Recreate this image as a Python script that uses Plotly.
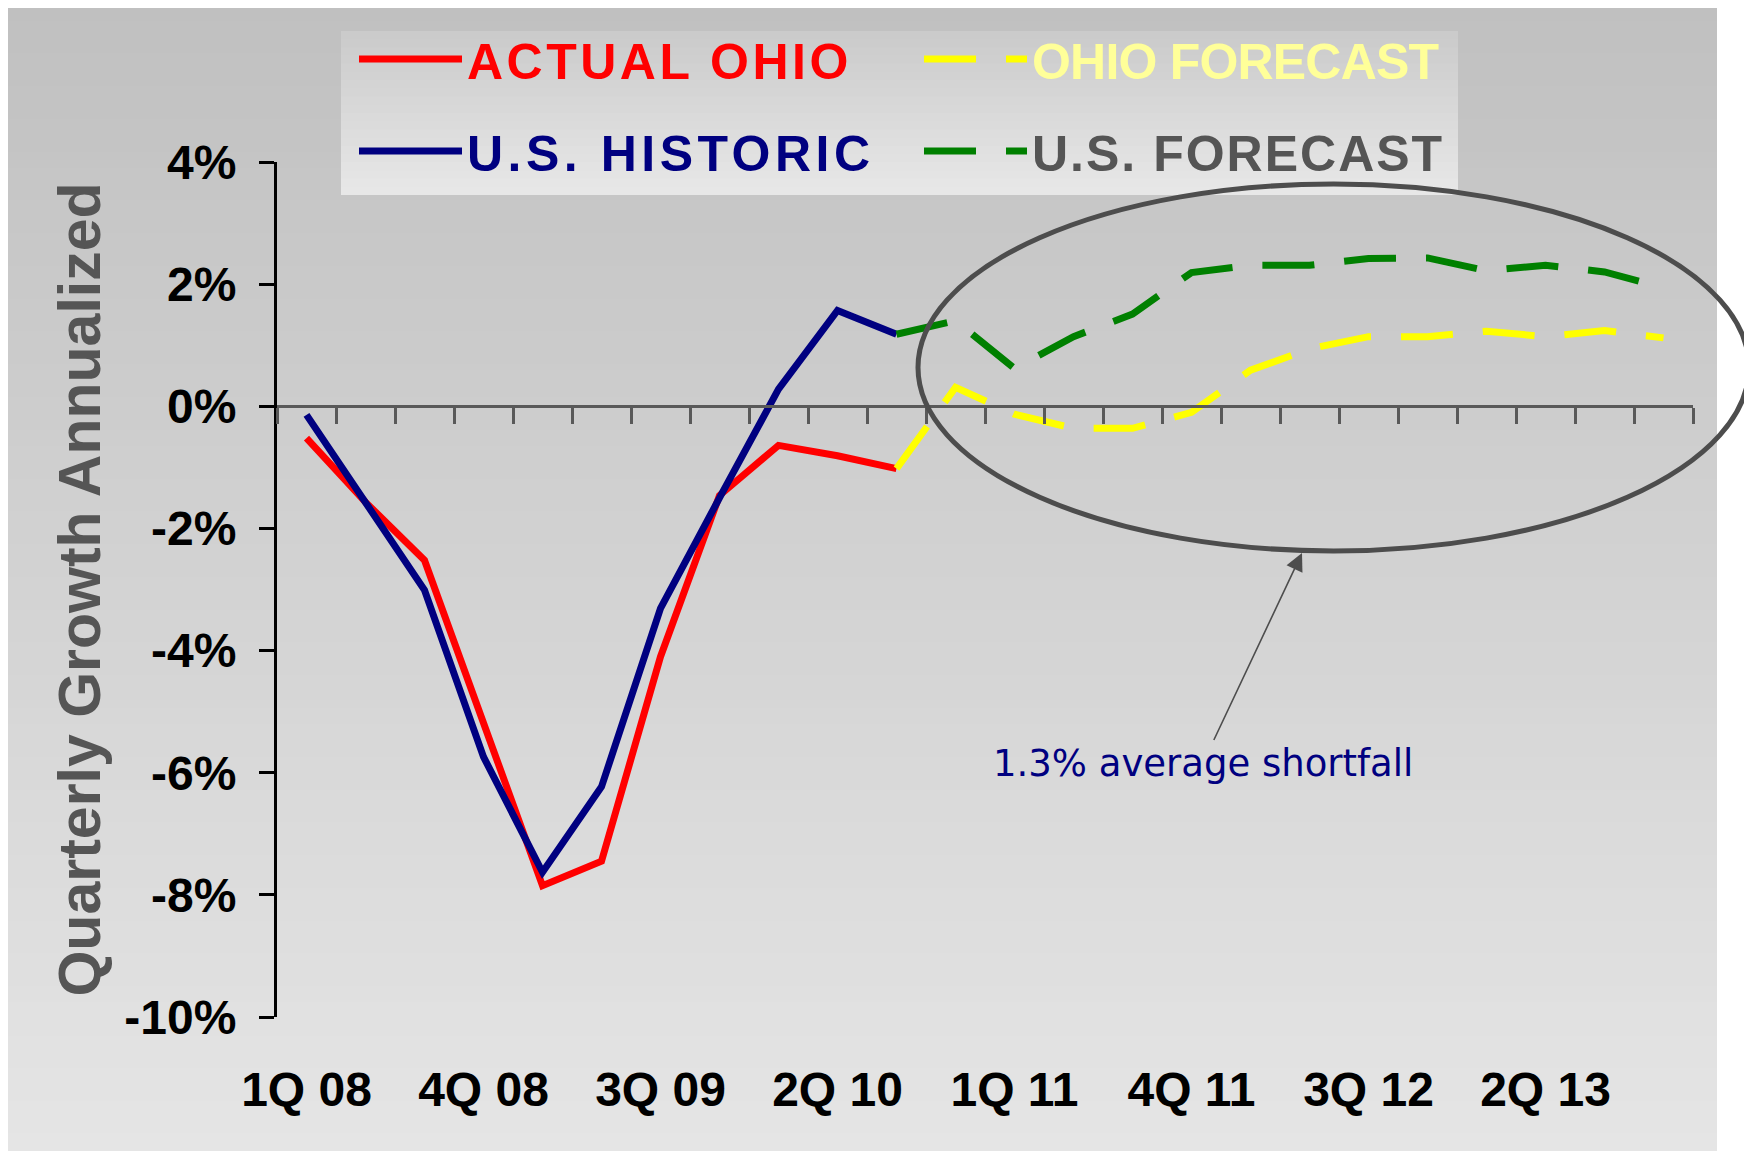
import plotly.graph_objects as go

# ---------------- data ----------------
quarters = ["1Q 08", "2Q 08", "3Q 08", "4Q 08", "1Q 09", "2Q 09", "3Q 09", "4Q 09",
            "1Q 10", "2Q 10", "3Q 10", "4Q 10", "1Q 11", "2Q 11", "3Q 11", "4Q 11",
            "1Q 12", "2Q 12", "3Q 12", "4Q 12", "1Q 13", "2Q 13", "3Q 13", "4Q 13"]
shown_labels = ["1Q 08", "4Q 08", "3Q 09", "2Q 10", "1Q 11", "4Q 11", "3Q 12", "2Q 13"]

ohio_actual = [-0.52, -1.57, -2.52, -5.20, -7.85, -7.45, -4.10, -1.46, -0.64, -0.81, -1.02] + [None] * 13
us_historic = [-0.14, -1.60, -3.01, -5.74, -7.63, -6.23, -3.31, -1.50, 0.28, 1.57, 1.18] + [None] * 13
ohio_forecast = [None] * 10 + [-1.02, 0.31, -0.13, -0.36, -0.36, -0.10, 0.59, 0.94,
                                1.14, 1.14, 1.23, 1.14, 1.24, 1.12]
us_forecast = [None] * 10 + [1.18, 1.40, 0.62, 1.14, 1.51, 2.19, 2.31, 2.31,
                              2.42, 2.43, 2.22, 2.31, 2.20, 1.94]

y_tickvals = [4, 2, 0, -2, -4, -6, -8, -10]
y_ticktext = ["4%", "2%", "0%", "-2%", "-4%", "-6%", "-8%", "-10%"]

# ---------------- geometry (page pixels; the page body adds an 8px offset) ----------------
OFF = 8
W, H = 1752 - OFF, 1152 - OFF
L, T = 277 - OFF, 162 - OFF
R = W - (1693 - OFF)
B = H - (1017 - OFF)
PW, PH = W - L - R, H - T - B


def px2paper_x(px):
    return (px - OFF - L) / PW


def px2paper_y(py):
    return (H - B - (py - OFF)) / PH


FONT = "Liberation Sans, Arial, sans-serif"

fig = go.Figure()

fig.add_trace(go.Scatter(
    x=quarters, y=ohio_actual, mode="lines",
    name="<span style='color:#ff0000;letter-spacing:3.5px'>ACTUAL OHIO</span>",
    line=dict(color="#ff0000", width=7), legend="legend"))
fig.add_trace(go.Scatter(
    x=quarters, y=us_historic, mode="lines",
    name="<span style='color:#000080;letter-spacing:4.5px'>U.S. HISTORIC</span>",
    line=dict(color="#000080", width=7), legend="legend2"))
fig.add_trace(go.Scatter(
    x=quarters, y=ohio_forecast, mode="lines",
    name="<span style='color:#ffff99;letter-spacing:-0.8px'>OHIO FORECAST</span>",
    line=dict(color="#ffff00", width=7, dash="52px,30px"), legend="legend"))
fig.add_trace(go.Scatter(
    x=quarters, y=us_forecast, mode="lines",
    name="<span style='color:#555555;letter-spacing:2px'>U.S. FORECAST</span>",
    line=dict(color="#008000", width=7, dash="52px,30px"), legend="legend2"))
# invisible helper so the bottom label axis renders
fig.add_trace(go.Scatter(x=quarters, y=[None] * len(quarters), xaxis="x2",
                         showlegend=False, hoverinfo="skip", mode="lines"))

# ---------------- background gradient (stripes) ----------------
shapes = []
n = 70
top_px, bot_px = 4, 1150
for i in range(n):
    y0 = top_px + (bot_px - top_px) * i / n
    y1 = top_px + (bot_px - top_px) * (i + 1) / n + 1
    c = int(round(192 + (229 - 192) * (i + 0.5) / n))
    shapes.append(dict(type="rect", xref="paper", yref="paper", layer="below",
                       x0=px2paper_x(4), x1=px2paper_x(1717),
                       y0=px2paper_y(y1), y1=px2paper_y(y0),
                       fillcolor=f"rgb({c},{c},{c})", line=dict(width=0)))
# legend box gradient
nb = 20
lb_t, lb_b = 31, 195
for i in range(nb):
    y0 = lb_t + (lb_b - lb_t) * i / nb
    y1 = lb_t + (lb_b - lb_t) * (i + 1) / nb + 1
    c = int(round(202 + (232 - 202) * (i + 0.5) / nb))
    shapes.append(dict(type="rect", xref="paper", yref="paper", layer="below",
                       x0=px2paper_x(341), x1=px2paper_x(1458),
                       y0=px2paper_y(min(y1, lb_b)), y1=px2paper_y(y0),
                       fillcolor=f"rgb({c},{c},{c})", line=dict(width=0)))
# highlight ellipse
shapes.append(dict(type="circle", xref="paper", yref="paper", layer="above",
                   x0=px2paper_x(918), x1=px2paper_x(1749),
                   y0=px2paper_y(551), y1=px2paper_y(184),
                   line=dict(color="#4d4d4d", width=5)))

legend_common = dict(orientation="h", xanchor="left", yanchor="middle",
                     bgcolor="rgba(0,0,0,0)", borderwidth=0,
                     font=dict(family=FONT, size=50, weight="bold"),
                     itemwidth=103, entrywidth=447, entrywidthmode="pixels",
                     traceorder="normal")

fig.update_layout(
    width=W, height=H, autosize=False,
    margin=dict(l=L, r=R, t=T, b=B, pad=0),
    paper_bgcolor="white", plot_bgcolor="rgba(0,0,0,0)",
    shapes=shapes,
    showlegend=True,
    legend=dict(x=px2paper_x(354), y=px2paper_y(59), **legend_common),
    legend2=dict(x=px2paper_x(354), y=px2paper_y(151), **legend_common),
    xaxis=dict(type="category", categoryorder="array", categoryarray=quarters,
               range=[-0.5, len(quarters) - 0.5], anchor="free", position=10 / 14,
               showline=True, linecolor="#595959", linewidth=3,
               ticks="outside", tickson="boundaries", ticklen=16, tickwidth=2.5,
               tickcolor="#595959", tickmode="array", tickvals=quarters,
               showticklabels=False, showgrid=False, zeroline=False),
    xaxis2=dict(type="category", categoryorder="array", categoryarray=quarters,
                range=[-0.5, len(quarters) - 0.5], overlaying="x", anchor="y", side="bottom",
                showline=False, ticks="", tickmode="array", tickvals=shown_labels,
                ticktext=shown_labels, showgrid=False, zeroline=False,
                ticklabelstandoff=40,
                tickfont=dict(family=FONT, size=48, color="black", weight="bold")),
    yaxis=dict(range=[-10, 4], tickmode="array", tickvals=y_tickvals, ticktext=y_ticktext,
               showline=True, linecolor="black", linewidth=3,
               ticks="outside", ticklen=15, tickwidth=3, tickcolor="black",
               showgrid=False, zeroline=False, ticklabelstandoff=13,
               tickfont=dict(family=FONT, size=48, color="black", weight="bold"),
               title=dict(text="Quarterly Growth Annualized", standoff=5,
                          font=dict(family=FONT, size=59, color="#555555", weight="bold"))),
    annotations=[dict(
        xref="paper", yref="paper", x=px2paper_x(1302), y=px2paper_y(553),
        ax=-99, ay=210, axref="pixel", ayref="pixel",
        text="1.3% average shortfall", showarrow=True,
        arrowhead=2, arrowsize=2.2, arrowwidth=1.6, arrowcolor="#4d4d4d", standoff=0,
        font=dict(family="DejaVu Sans, Verdana, sans-serif", size=37, color="#000080"))],
)

fig.write_html("out.html")
